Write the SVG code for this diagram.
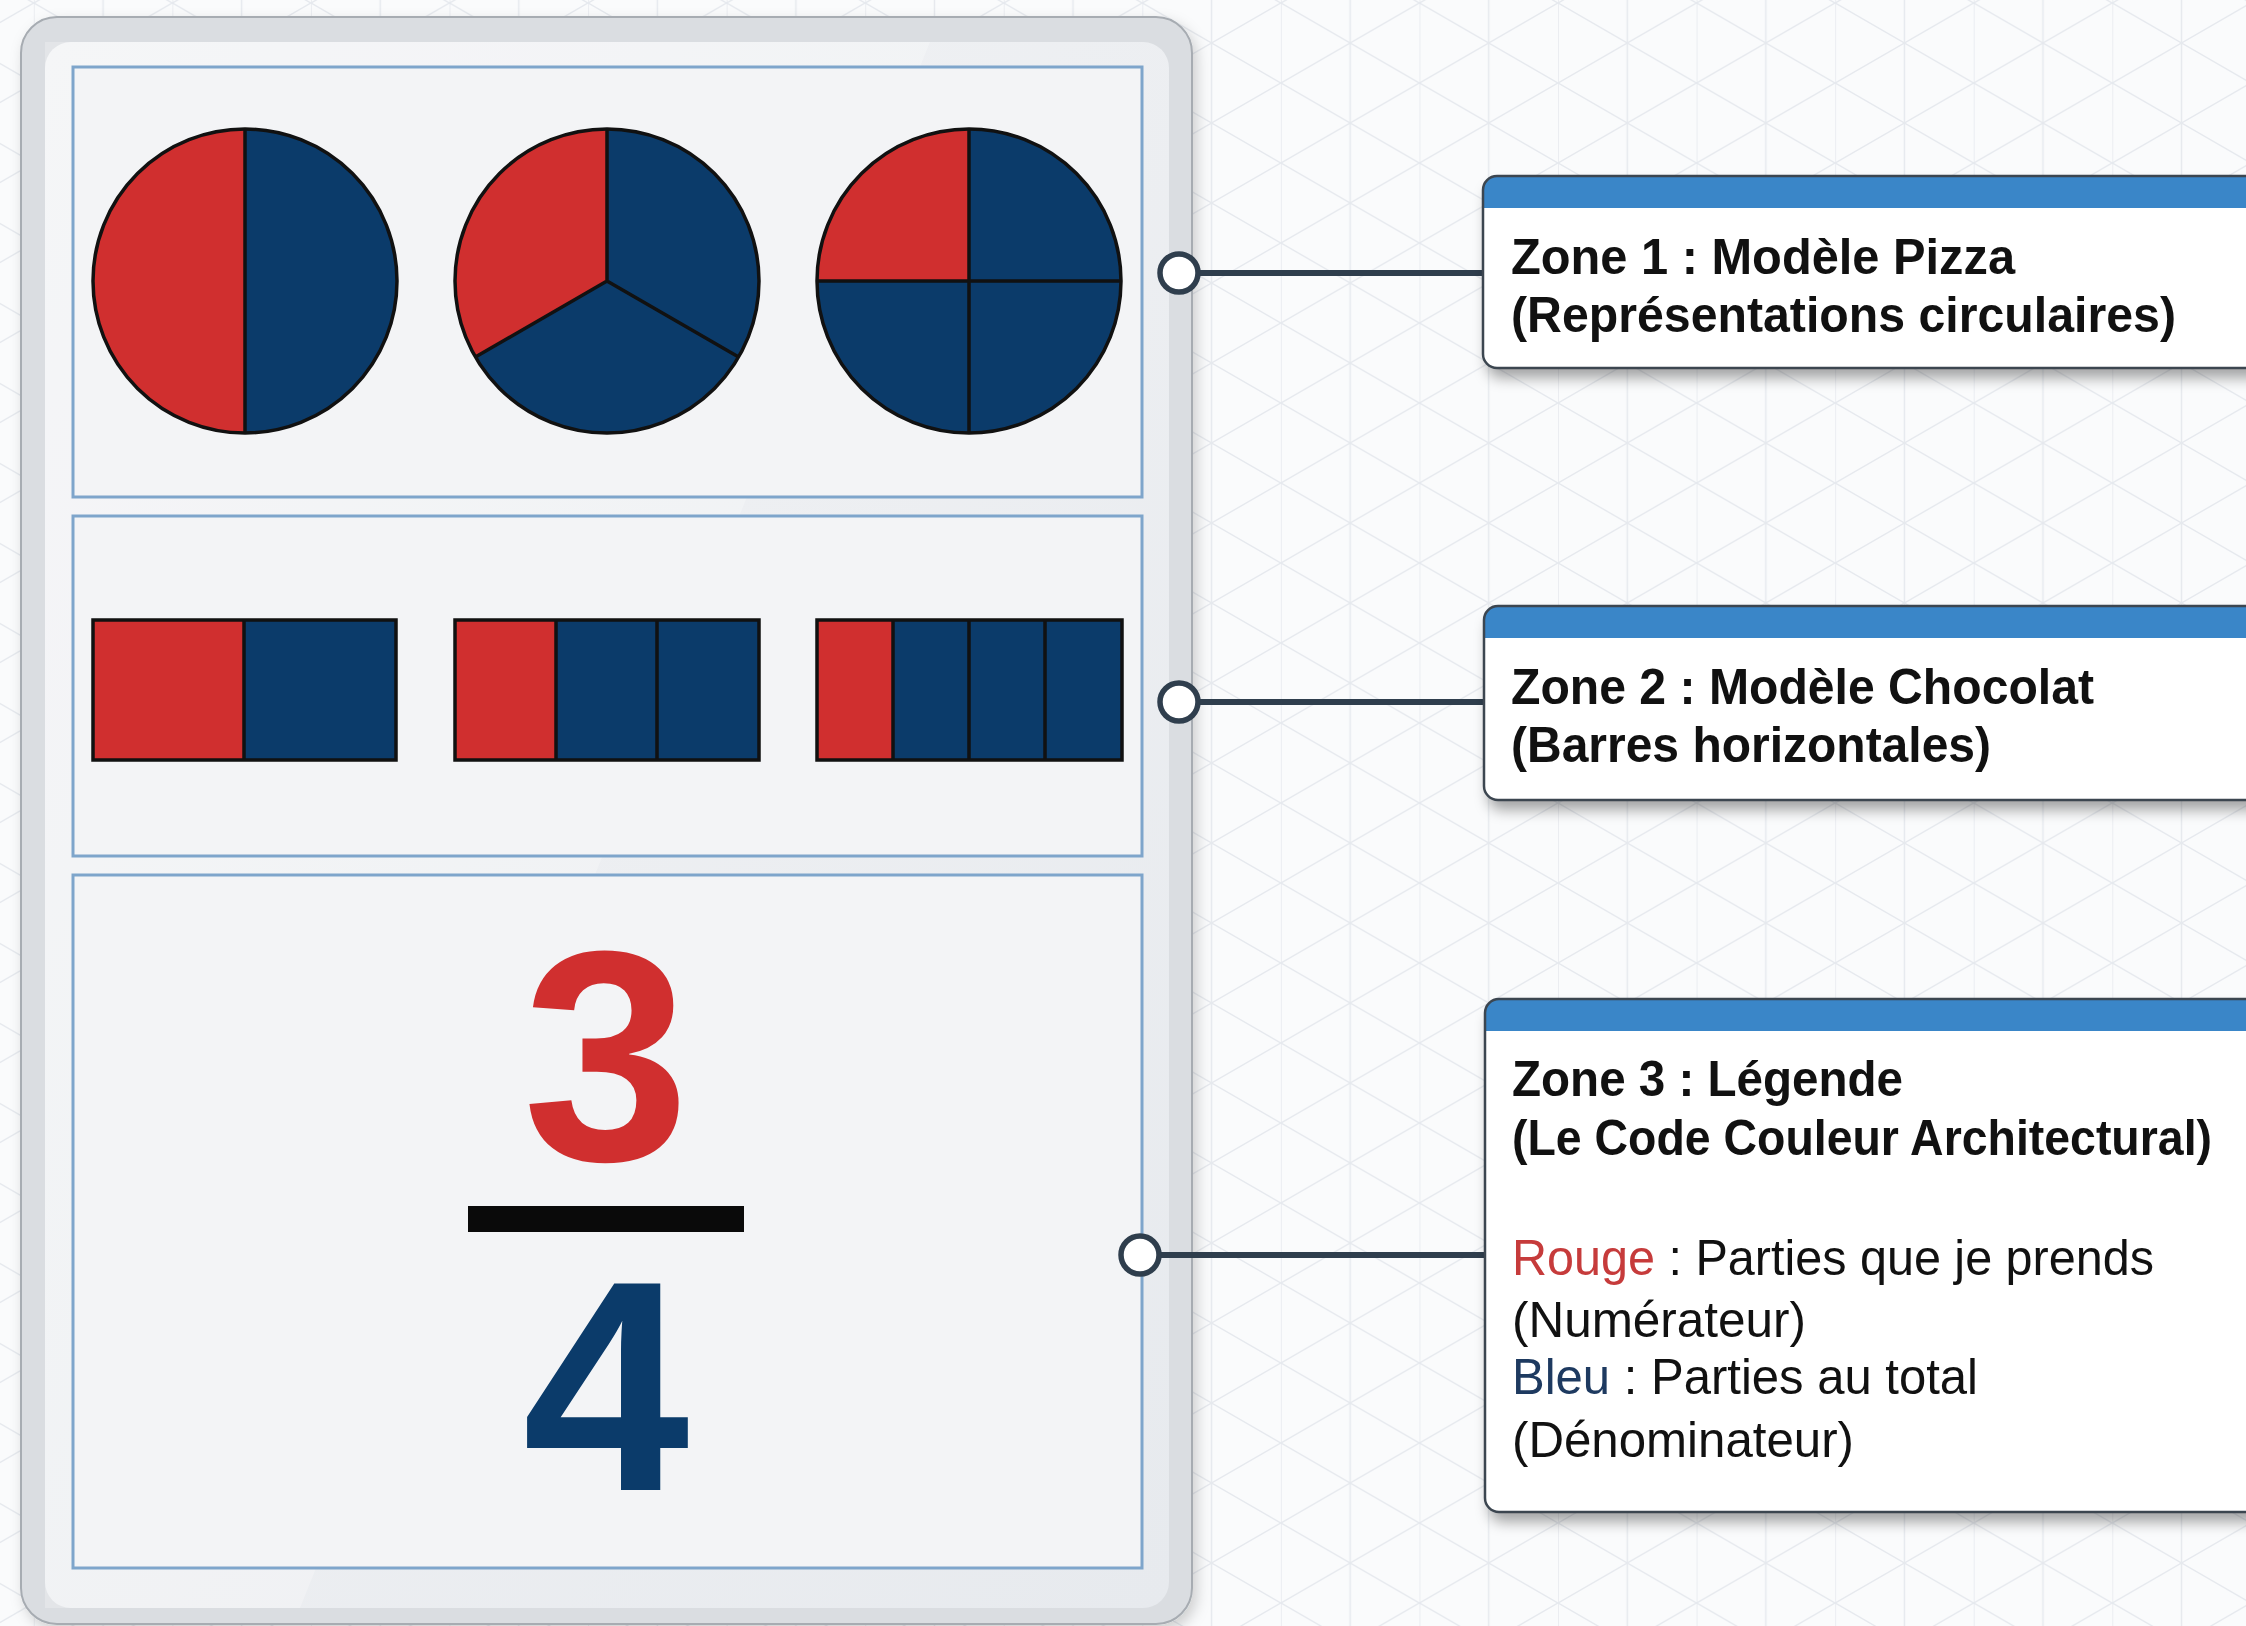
<svg xmlns="http://www.w3.org/2000/svg" width="2246" height="1626" viewBox="0 0 2246 1626">
<defs>
<pattern id="grid" patternUnits="userSpaceOnUse" x="33.8" y="3" width="138.564" height="80">
<g stroke="#E6E9EE" stroke-width="1.5" fill="none">
<line x1="0" y1="0" x2="0" y2="80"/>
<line x1="69.282" y1="0" x2="69.282" y2="80"/>
<line x1="0" y1="0" x2="138.564" y2="80"/>
<line x1="0" y1="80" x2="138.564" y2="0"/>
</g>
</pattern>
<filter id="tabShadow" x="-5%" y="-5%" width="110%" height="110%">
<feDropShadow dx="4" dy="6" stdDeviation="7" flood-color="#000" flood-opacity="0.18"/>
</filter>
<filter id="boxShadow" x="-5%" y="-10%" width="115%" height="130%">
<feDropShadow dx="4" dy="10" stdDeviation="7" flood-color="#000" flood-opacity="0.35"/>
</filter>
<linearGradient id="panelGrad" x1="0" y1="0" x2="1" y2="1">
<stop offset="0" stop-color="#F2F3F5"/>
<stop offset="1" stop-color="#E7EAEE"/>
</linearGradient>
<style>
.zone{fill:#F3F4F6;stroke:#7EA5CB;stroke-width:3}
.red{fill:#D02F2F}
.navy{fill:#0B3B6A}
.edge{fill:none;stroke:#111;stroke-width:3.5}
.div{stroke:#111;stroke-width:3.5}
.conn{stroke:#2F3E4D;stroke-width:6;fill:none}
.dot{fill:#FFFFFF;stroke:#2F3E4D;stroke-width:5.5}
.card{fill:none;stroke:#3C4650;stroke-width:2.5}
.hdr{fill:#3A86C8}
.t{font-family:"Liberation Sans",Arial,sans-serif;font-size:50px;fill:#111}
.b{font-weight:bold}
.num{font-family:"Liberation Sans",Arial,sans-serif;font-size:300px;font-weight:bold;text-anchor:middle}
</style>
</defs>

<rect x="0" y="0" width="2246" height="1626" fill="#FAFBFC"/>
<rect x="0" y="0" width="2246" height="1626" fill="url(#grid)"/>

<g id="tablet">
<rect x="21" y="17" width="1171" height="1607" rx="36" fill="#DADDE1" stroke="#A7ACB2" stroke-width="2" filter="url(#tabShadow)"/>
<rect x="45" y="42" width="1124" height="1566" rx="26" fill="url(#panelGrad)"/>
<polygon points="45,42 930,42 300,1608 45,1608" fill="#FFFFFF" opacity="0.25"/>
</g>

<g id="zone1">
<rect class="zone" x="73" y="67" width="1069" height="430"/>
<g id="pie-half">
<circle class="navy" cx="245" cy="281" r="152"/>
<path class="red" d="M245,281 L245,129 A152,152 0 0 0 245,433 Z"/>
<line class="div" x1="245" y1="129" x2="245" y2="433"/>
<circle class="edge" cx="245" cy="281" r="152"/>
</g>
<g id="pie-third">
<circle class="navy" cx="607" cy="281" r="152"/>
<path class="red" d="M607,281 L607,129 A152,152 0 0 0 475.4,357 Z"/>
<path class="div" fill="none" d="M607,129 L607,281 L475.4,357 M607,281 L738.6,357"/>
<circle class="edge" cx="607" cy="281" r="152"/>
</g>
<g id="pie-quarter">
<circle class="navy" cx="969" cy="281" r="152"/>
<path class="red" d="M969,281 L969,129 A152,152 0 0 0 817,281 Z"/>
<path class="div" fill="none" d="M969,129 V433 M817,281 H1121"/>
<circle class="edge" cx="969" cy="281" r="152"/>
</g>
</g>

<g id="zone2">
<rect class="zone" x="73" y="516" width="1069" height="340"/>
<g id="bar-half">
<rect class="red" x="93" y="620" width="151" height="140"/>
<rect class="navy" x="244" y="620" width="152" height="140"/>
<line class="div" x1="244" y1="620" x2="244" y2="760"/>
<rect class="edge" x="93" y="620" width="303" height="140"/>
</g>
<g id="bar-third">
<rect class="red" x="455" y="620" width="101" height="140"/>
<rect class="navy" x="556" y="620" width="203" height="140"/>
<path class="div" d="M556,620 V760 M657,620 V760"/>
<rect class="edge" x="455" y="620" width="304" height="140"/>
</g>
<g id="bar-quarter">
<rect class="red" x="817" y="620" width="76" height="140"/>
<rect class="navy" x="893" y="620" width="229" height="140"/>
<path class="div" d="M893,620 V760 M969,620 V760 M1045,620 V760"/>
<rect class="edge" x="817" y="620" width="305" height="140"/>
</g>
</g>

<g id="zone3">
<rect class="zone" x="73" y="875" width="1069" height="693"/>
<text class="num" x="606" y="1160" fill="#D02F2F">3</text>
<rect x="468" y="1206" width="276" height="26" fill="#0A0A0A"/>
<text class="num" x="606" y="1490" fill="#0B3B6A">4</text>
</g>

<g id="connectors">
<line class="conn" x1="1198" y1="273" x2="1484" y2="273"/>
<line class="conn" x1="1198" y1="702" x2="1484" y2="702"/>
<line class="conn" x1="1159" y1="1255" x2="1486" y2="1255"/>
<circle class="dot" cx="1179" cy="273" r="19"/>
<circle class="dot" cx="1179" cy="702" r="19"/>
<circle class="dot" cx="1140" cy="1255" r="19"/>
</g>

<g id="card1">
<rect x="1483" y="176" width="820" height="192" rx="14" fill="#FFFFFF" filter="url(#boxShadow)"/>
<path class="hdr" d="M1483,208 V190 A14,14 0 0 1 1497,176 H2303 V208 Z"/>
<rect class="card" x="1483" y="176" width="820" height="192" rx="14"/>
<text class="t b" x="1511" y="274" textLength="504" lengthAdjust="spacingAndGlyphs">Zone 1 : Modèle Pizza</text>
<text class="t b" x="1511" y="332" textLength="665" lengthAdjust="spacingAndGlyphs">(Représentations circulaires)</text>
</g>

<g id="card2">
<rect x="1484" y="606" width="820" height="194" rx="14" fill="#FFFFFF" filter="url(#boxShadow)"/>
<path class="hdr" d="M1484,638 V620 A14,14 0 0 1 1498,606 H2304 V638 Z"/>
<rect class="card" x="1484" y="606" width="820" height="194" rx="14"/>
<text class="t b" x="1511" y="704" textLength="583" lengthAdjust="spacingAndGlyphs">Zone 2 : Modèle Chocolat</text>
<text class="t b" x="1511" y="762" textLength="480" lengthAdjust="spacingAndGlyphs">(Barres horizontales)</text>
</g>

<g id="card3">
<rect x="1485" y="999" width="820" height="513" rx="14" fill="#FFFFFF" filter="url(#boxShadow)"/>
<path class="hdr" d="M1485,1031 V1013 A14,14 0 0 1 1499,999 H2305 V1031 Z"/>
<rect class="card" x="1485" y="999" width="820" height="513" rx="14"/>
<text class="t b" x="1512" y="1096" textLength="391" lengthAdjust="spacingAndGlyphs">Zone 3 : Légende</text>
<text class="t b" x="1512" y="1155" textLength="700" lengthAdjust="spacingAndGlyphs">(Le Code Couleur Architectural)</text>
<text class="t" x="1512" y="1275" textLength="642" lengthAdjust="spacingAndGlyphs"><tspan fill="#C63B3B">Rouge</tspan> : Parties que je prends</text>
<text class="t" x="1512" y="1337" textLength="294" lengthAdjust="spacingAndGlyphs">(Numérateur)</text>
<text class="t" x="1512" y="1394" textLength="466" lengthAdjust="spacingAndGlyphs"><tspan fill="#1E3A60">Bleu</tspan> : Parties au total</text>
<text class="t" x="1512" y="1457" textLength="342" lengthAdjust="spacingAndGlyphs">(Dénominateur)</text>
</g>
</svg>
